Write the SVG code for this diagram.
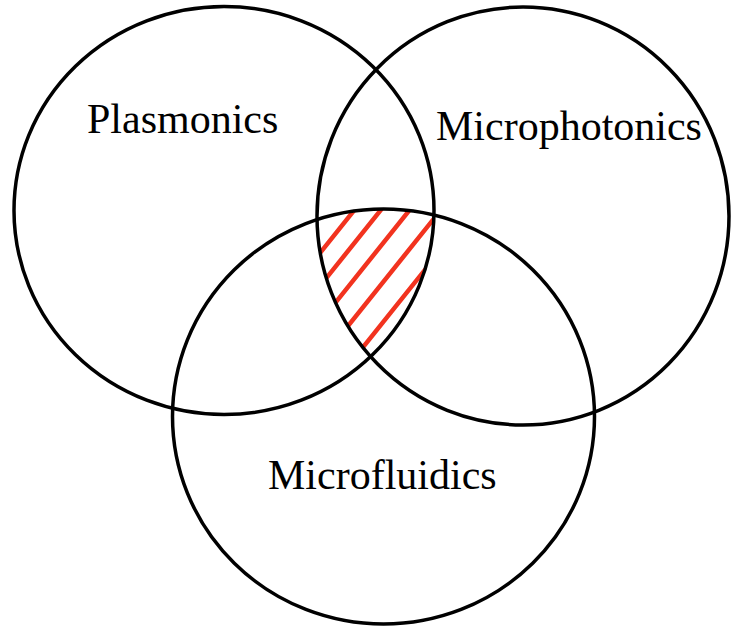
<svg xmlns="http://www.w3.org/2000/svg" width="731" height="630" viewBox="0 0 731 630">
  <style>
    .ring { fill: none; stroke: #000; stroke-width: 3.5; }
    .label { font-family: "Liberation Serif", "Times New Roman", serif; font-size: 42px; fill: #000; }
    .hatch { stroke: #f2331f; stroke-width: 4.5; fill: none; }
  </style>
  <defs>
    <clipPath id="clipA"><ellipse cx="224" cy="210.5" rx="209" ry="203"/></clipPath>
    <clipPath id="clipB" clip-path="url(#clipA)"><ellipse cx="523" cy="216" rx="205" ry="208"/></clipPath>
    <clipPath id="clipC" clip-path="url(#clipB)"><ellipse cx="383.5" cy="416.5" rx="210" ry="206.5"/></clipPath>
  </defs>
  <rect width="731" height="630" fill="#fff"/>
  <g id="intersection-hatch" clip-path="url(#clipC)">
    <path class="hatch" d="M 280 303 L 480 53 M 280 336 L 480 86 M 280 372 L 480 122 M 280 411 L 480 161 M 280 451 L 480 201"/>
  </g>
  <g id="plasmonics">
    <ellipse class="ring" cx="224" cy="210.5" rx="210" ry="204"/>
    <text class="label" x="87" y="133">Plasmonics</text>
  </g>
  <g id="microphotonics">
    <ellipse class="ring" cx="523" cy="216" rx="206" ry="209"/>
    <text class="label" x="436" y="140">Microphotonics</text>
  </g>
  <g id="microfluidics">
    <ellipse class="ring" cx="383.5" cy="416.5" rx="211" ry="207.5"/>
    <text class="label" x="268" y="489">Microfluidics</text>
  </g>
  <g id="connectors"/>
</svg>
